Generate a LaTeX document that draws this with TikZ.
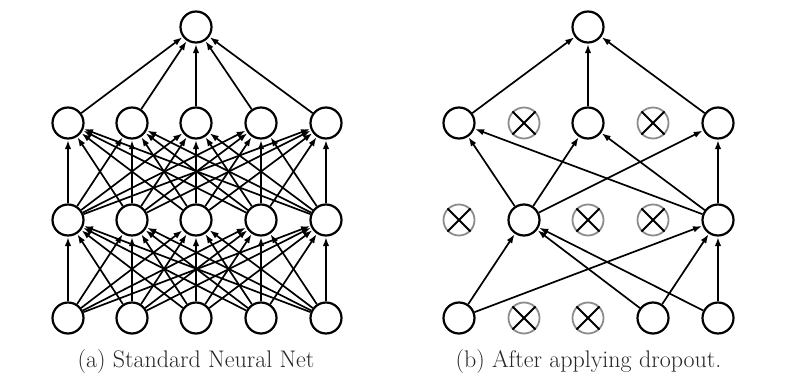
\documentclass[tikz,border=0pt]{standalone}
\usetikzlibrary{arrows.meta}
\begin{document}
\begin{tikzpicture}[x=1pt,y=-1pt,
  neuron/.style={circle,draw=black,line width=2.2pt,minimum size=31pt,inner sep=0pt,fill=white},
  dropped/.style={circle,draw=black!45,line width=1.8pt,minimum size=31pt,inner sep=0pt,fill=white},
  conn/.style={line width=1.7pt,-{Latex[length=9pt,width=6.5pt]},shorten >=0.5pt},
  xline/.style={line width=1.8pt,black},
  caption/.style={font=\fontsize{24}{28}\selectfont,text=black!85,inner sep=0pt}]
\useasboundingbox (0,0) rectangle (790,388);
% ---------- left network ----------
\foreach \i/\x in {1/68,2/132,3/196,4/261,5/326}{
  \node[neuron] (ai\i) at (\x,318) {};
  \node[neuron] (ah\i) at (\x,220) {};
  \node[neuron] (ag\i) at (\x,123) {};
}
\node[neuron] (ao) at (196,27) {};
\foreach \i in {1,...,5}{
  \foreach \j in {1,...,5}{
    \draw[conn] (ai\i) -- (ah\j);
    \draw[conn] (ah\i) -- (ag\j);
  }
  \draw[conn] (ag\i) -- (ao);
}
% ---------- right network ----------
\node[neuron] (bi1) at (459,318) {};
\node[dropped] (bi2) at (524,318) {};
\node[dropped] (bi3) at (588,318) {};
\node[neuron] (bi4) at (653,318) {};
\node[neuron] (bi5) at (718,318) {};
\node[dropped] (bh1) at (459,220) {};
\node[neuron] (bh2) at (524,220) {};
\node[dropped] (bh3) at (588,220) {};
\node[dropped] (bh4) at (653,220) {};
\node[neuron] (bh5) at (718,220) {};
\node[neuron] (bg1) at (459,123) {};
\node[dropped] (bg2) at (524,123) {};
\node[neuron] (bg3) at (588,123) {};
\node[dropped] (bg4) at (653,123) {};
\node[neuron] (bg5) at (718,123) {};
\node[neuron] (bo) at (588,27) {};
\foreach \n in {bi2,bi3,bh1,bh3,bh4,bg2,bg4}{
  \draw[xline] (\n.45) -- (\n.225);
  \draw[xline] (\n.135) -- (\n.315);
}
\foreach \a/\b in {bg1/bo,bg3/bo,bg5/bo,
                   bh2/bg1,bh5/bg1,bh2/bg3,bh5/bg3,bh2/bg5,bh5/bg5,
                   bi1/bh2,bi4/bh2,bi5/bh2,bi1/bh5,bi4/bh5,bi5/bh5}{
  \draw[conn] (\a) -- (\b);
}
% ---------- captions ----------
\node[caption] (capa) at (196,362) {(a) Standard Neural Net};
\node[caption] (capb) at (588.5,362) {(b) After applying dropout.};
\end{tikzpicture}
\end{document}
